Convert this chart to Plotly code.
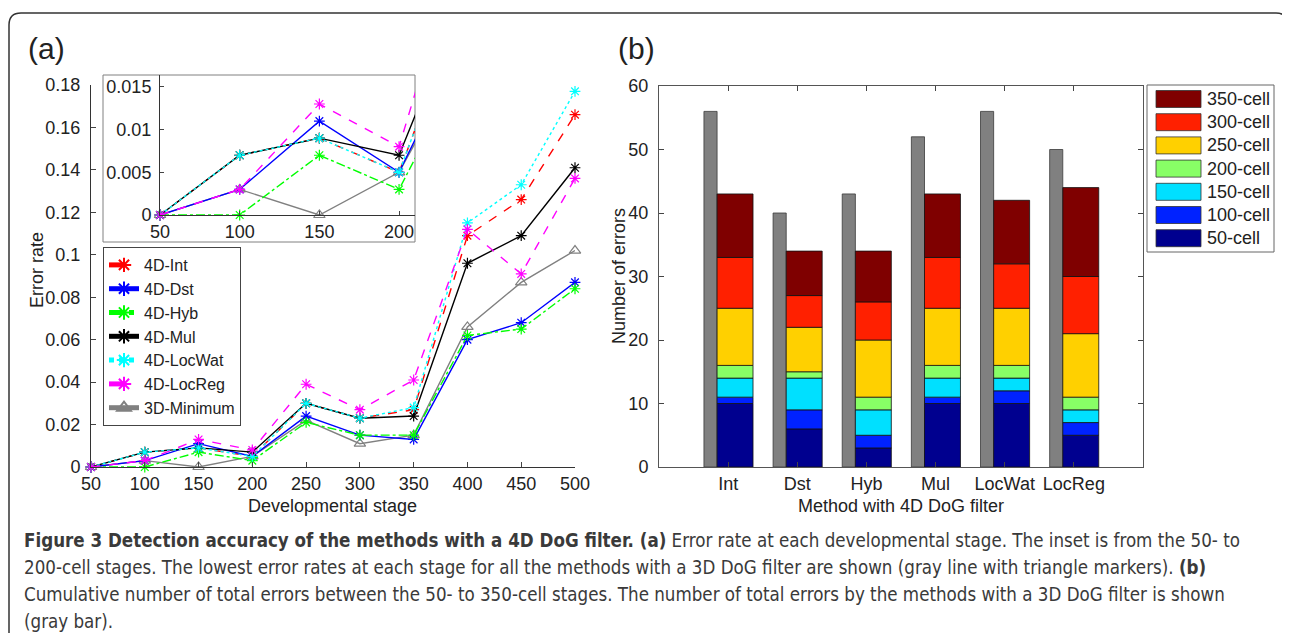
import numpy as np
import plotly.graph_objects as go

# ---------------- data ----------------
stages = [50, 100, 150, 200, 250, 300, 350, 400, 450, 500]
int_4d = [0, 0.007, 0.009, 0.005, 0.030, 0.023, 0.027, 0.109, 0.126, 0.166]
dst_4d = [0, 0.003, 0.011, 0.005, 0.024, 0.015, 0.013, 0.060, 0.068, 0.087]
hyb_4d = [0, 0.000, 0.007, 0.003, 0.021, 0.015, 0.015, 0.062, 0.065, 0.084]
mul_4d = [0, 0.007, 0.009, 0.007, 0.030, 0.023, 0.024, 0.096, 0.109, 0.141]
locwat_4d = [0, 0.007, 0.009, 0.005, 0.030, 0.023, 0.028, 0.115, 0.133, 0.177]
locreg_4d = [0, 0.003, 0.013, 0.008, 0.039, 0.027, 0.041, 0.112, 0.091, 0.136]
min_3d = [0, 0.003, 0.000, 0.005, 0.022, 0.011, 0.015, 0.066, 0.087, 0.102]

methods = ["Int", "Dst", "Hyb", "Mul", "LocWat", "LocReg"]
gray_3d = [56, 40, 43, 52, 56, 50]
cell_labels = ["50-cell", "100-cell", "150-cell", "200-cell", "250-cell", "300-cell", "350-cell"]
c50 = [10, 6, 3, 10, 10, 5]
c100 = [1, 3, 2, 1, 2, 2]
c150 = [3, 5, 4, 3, 2, 2]
c200 = [2, 1, 2, 2, 2, 2]
c250 = [9, 7, 9, 9, 9, 10]
c300 = [8, 5, 6, 8, 7, 9]
c350 = [10, 7, 8, 10, 10, 14]

y_ticks_a = [0, 0.02, 0.04, 0.06, 0.08, 0.1, 0.12, 0.14, 0.16, 0.18]
y_ticktext_a = ["0", "0.02", "0.04", "0.06", "0.08", "0.1", "0.12", "0.14", "0.16", "0.18"]
inset_yticks = [0, 0.005, 0.01, 0.015]
inset_yticktext = ["0", "0.005", "0.01", "0.015"]

# ---------------- geometry helpers (page has an 8px body margin) ----------------
OFF = 8
W, H = 1282, 625
def px(x): return (x - OFF) / W
def py(y): return 1 - (y - OFF) / H

FONT = "Liberation Sans, Arial, sans-serif"
CAP_FONT = "Liberation Sans Narrow, DejaVu Sans Condensed, Arial Narrow, sans-serif"
FS = 18

series = [
    ("4D-Int", int_4d, "#FF0000", "dash", "asterisk-open"),
    ("4D-Dst", dst_4d, "#0000FF", "solid", "asterisk-open"),
    ("4D-Hyb", hyb_4d, "#00FF00", "dashdot", "asterisk-open"),
    ("4D-Mul", mul_4d, "#000000", "solid", "asterisk-open"),
    ("4D-LocWat", locwat_4d, "#00FFFF", "dot", "asterisk-open"),
    ("4D-LocReg", locreg_4d, "#FF00FF", "dash", "asterisk-open"),
    ("3D-Minimum", min_3d, "#808080", "solid", "triangle-up-open"),
]
draw_order = [6, 0, 1, 2, 3, 4, 5]

fig = go.Figure()

for idx in draw_order:
    name, vals, col, dash, sym = series[idx]
    for xa, ya, show in (("x", "y", True), ("x2", "y2", False)):
        fig.add_trace(go.Scatter(
            x=stages, y=vals, name=name, mode="lines+markers",
            xaxis=xa, yaxis=ya, showlegend=show, legendrank=idx + 1,
            line=dict(color=col, width=1.4, dash=dash),
            marker=dict(symbol=sym, size=9 if sym.startswith("ast") else 10,
                        color=col, line=dict(color=col, width=1.2)),
            cliponaxis=False,
        ))

# ---------------- bars ----------------
pos = list(range(1, len(methods) + 1))
fig.add_trace(go.Bar(
    x=pos, y=gray_3d, offset=-0.35, width=0.19, xaxis="x3", yaxis="y3",
    marker=dict(color="#808080", line=dict(color="#3a3a3a", width=0.8)),
    showlegend=False,
))
seg_colors = ["#00008F", "#0022FF", "#00E0FF", "#88FF66", "#FFD000", "#FF2000", "#7F0000"]
segments = [c50, c100, c150, c200, c250, c300, c350]
base = np.zeros(len(methods))
for lab, seg, col in zip(cell_labels, segments, seg_colors):
    fig.add_trace(go.Bar(
        x=pos, y=seg, base=base.copy(), offset=-0.16, width=0.52,
        xaxis="x3", yaxis="y3", name=lab,
        marker=dict(color=col, line=dict(color="#111111", width=0.8)),
        showlegend=False,
    ))
    base = base + np.array(seg)

axis_font = dict(family=FONT, size=FS, color="#222")
fig.update_layout(
    width=W, height=H,
    margin=dict(l=0, r=0, t=0, b=0, autoexpand=False),
    paper_bgcolor="white", plot_bgcolor="rgba(0,0,0,0)",
    barmode="overlay",
    font=dict(family=FONT, size=FS, color="#222"),
    xaxis=dict(domain=[px(91), px(575)], range=[50, 500], tickvals=stages,
               ticks="inside", ticklen=5, showline=True, linecolor="#333",
               linewidth=1, showgrid=False, zeroline=False, tickfont=axis_font,
               anchor="y"),
    yaxis=dict(domain=[py(467), py(85)], range=[0, 0.18], tickvals=y_ticks_a,
               ticktext=y_ticktext_a, ticks="inside", ticklen=5, showline=True,
               linecolor="#333", linewidth=1, showgrid=False, zeroline=False,
               tickfont=axis_font, anchor="x", ticklabelstandoff=6),
    xaxis2=dict(domain=[px(160), px(415)], range=[50, 210], tickvals=stages[:4],
                ticks="inside", ticklen=4, showline=True, linecolor="#333",
                showgrid=False, zeroline=False, tickfont=axis_font, anchor="y2"),
    yaxis2=dict(domain=[py(215), py(75)], range=[0, 0.0164], tickvals=inset_yticks,
                ticktext=inset_yticktext, ticks="inside", ticklen=4, showline=True,
                linecolor="#333", showgrid=False, zeroline=False, tickfont=axis_font,
                anchor="x2", ticklabelstandoff=4),
    xaxis3=dict(domain=[px(659), px(1143)], range=[0, 7], tickvals=pos,
                ticktext=methods, ticks="inside", ticklen=5, showline=True,
                linecolor="#555", mirror="ticks", showgrid=False, zeroline=False,
                tickfont=axis_font, anchor="y3"),
    yaxis3=dict(domain=[py(467), py(86)], range=[0, 60], tickvals=list(range(0, 61, 10)),
                ticks="inside", ticklen=5, showline=True, linecolor="#555",
                mirror="ticks", showgrid=False, zeroline=False, tickfont=axis_font,
                anchor="x3", ticklabelstandoff=6),
    legend=dict(x=px(103), y=py(247), xanchor="left", yanchor="top",
                bgcolor="white", bordercolor="#444", borderwidth=1,
                font=dict(family=FONT, size=16, color="#222"),
                traceorder="normal", itemsizing="constant"),
)

shapes = []
# outer rounded frame
shapes.append(dict(type="path", xref="paper", yref="paper", layer="below",
    path=(f"M {px(9)},{py(633)} L {px(9)},{py(25)} Q {px(9)},{py(13)} {px(21)},{py(13)} "
          f"L {px(1276)},{py(13)} Q {px(1288)},{py(13)} {px(1288)},{py(25)} L {px(1288)},{py(633)}"),
    line=dict(color="#333", width=1.5)))
# inset frame
shapes.append(dict(type="rect", xref="paper", yref="paper", layer="below",
    x0=px(103), x1=px(415), y0=py(242), y1=py(75),
    fillcolor="white", line=dict(color="#808080", width=1)))
# manual legend for the bars
shapes.append(dict(type="rect", xref="paper", yref="paper",
    x0=px(1147), x1=px(1274), y0=py(252), y1=py(85),
    fillcolor="white", line=dict(color="#666", width=1)))

annotations = []
for i, (lab, col) in enumerate(zip(cell_labels[::-1], seg_colors[::-1])):
    yc = 99 + 23.2 * i
    shapes.append(dict(type="rect", xref="paper", yref="paper",
        x0=px(1156), x1=px(1201), y0=py(yc + 8.5), y1=py(yc - 8.5),
        fillcolor=col, line=dict(color="#333", width=0.8)))
    annotations.append(dict(xref="paper", yref="paper", x=px(1205), y=py(yc),
        xanchor="left", yanchor="middle", text=lab, showarrow=False,
        font=dict(family=FONT, size=FS, color="#222")))

def label(x, y, text, size=FS, angle=0):
    return dict(xref="paper", yref="paper", x=px(x), y=py(y), text=text,
                xanchor="center", yanchor="middle", textangle=angle, showarrow=False,
                font=dict(family=FONT, size=size, color="#222"))

annotations += [
    label(46, 48, "(a)", 30),
    label(636, 48, "(b)", 30),
    label(333, 506, "Developmental stage"),
    label(37, 270, "Error rate", angle=-90),
    label(901, 506, "Method with 4D DoG filter"),
    label(619, 276, "Number of errors", angle=-90),
]

caption = [
    "<b>Figure 3 Detection accuracy of the methods with a 4D DoG filter. (a)</b> Error rate at each developmental stage. The inset is from the 50- to",
    "200-cell stages. The lowest error rates at each stage for all the methods with a 3D DoG filter are shown (gray line with triangle markers). <b>(b)</b>",
    "Cumulative number of total errors between the 50- to 350-cell stages. The number of total errors by the methods with a 3D DoG filter is shown",
    "(gray bar).",
]
for i, line in enumerate(caption):
    annotations.append(dict(xref="paper", yref="paper", x=px(22), y=py(540 + 27 * i),
        xanchor="left", yanchor="middle", text=line, showarrow=False,
        font=dict(family=CAP_FONT, size=18.6, color="#3a3a3a")))

fig.update_layout(shapes=shapes, annotations=annotations)
fig.write_html("out.html")
